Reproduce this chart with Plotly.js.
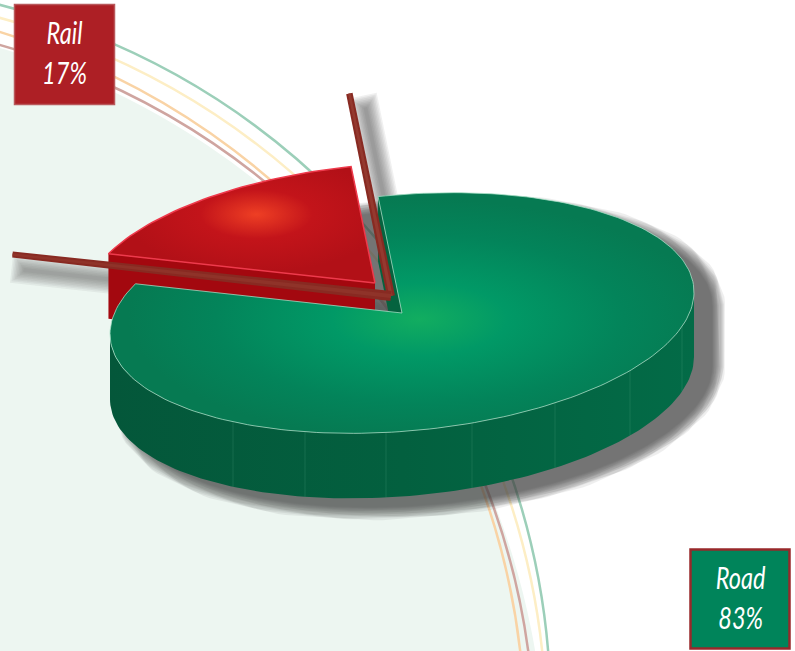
<!DOCTYPE html>
<html>
<head>
<meta charset="utf-8">
<script src="https://cdn.plot.ly/plotly-3.0.1.min.js"></script>
<style>html,body{margin:0;padding:0;background:#fff}</style>
</head>
<body>
<div id="chart" style="width:795px;height:651px"></div>
<script>
// Freight share by mode
const categories = ['Road', 'Rail'];
const shares = [83, 17];

// Tilted disc projection, in plot units
const DISC = {cx: 402, cy: 313, ax: 292, skew: -21, ay: 118.5, depth: 65};
const START_DEG = 94.7;          // where the Road sector begins, going clockwise
const RAIL_PULL = {dx: -27, dy: -30};
const ROD_ORIGIN = {dx: -11, dy: -17};
const RIB_X = [233, 305, 386, 472, 555, 630, 682];

const rad = d => d * Math.PI / 180;
function rim(deg, s = 1, ox = 0, oy = 0) {
  const c = Math.cos(rad(deg)), n = Math.sin(rad(deg));
  return [DISC.cx + DISC.ax * c * s + ox, DISC.cy + (DISC.skew * c - DISC.ay * n) * s + oy];
}
function arc(from, to, ox = 0, oy = 0) {
  const n = Math.max(2, Math.ceil(Math.abs(to - from) / 1.5));
  const pts = [];
  for (let i = 0; i <= n; i++) pts.push(rim(from + (to - from) * i / n, 1, ox, oy));
  return pts;
}
const xs = p => p.map(q => q[0]);
const ys = p => p.map(q => q[1]);
function poly(pts, extra) {
  return Object.assign({type: 'scatter', mode: 'lines', x: xs(pts), y: ys(pts), fill: 'toself',
    hoverinfo: 'skip', showlegend: false, line: {width: 0, color: 'rgba(0,0,0,0)'}}, extra);
}
// Soft edge: the same outline stroked repeatedly at growing widths, faintly
function softShadow(pts, widths, color, opacity) {
  return widths.map(w => ({type: 'scatter', mode: 'lines', x: xs(pts), y: ys(pts),
    fill: 'toself', fillcolor: color, opacity,
    line: {width: w, color}, hoverinfo: 'skip', showlegend: false}));
}
// A rod's shadow fades out past its tip as well as along its sides
function rodShadow(tip, base, ox, oy, widths, color, opacity) {
  const len = Math.hypot(tip[0] - base[0], tip[1] - base[1]);
  const ux = (tip[0] - base[0]) / len, uy = (tip[1] - base[1]) / len;
  return widths.map(w => {
    const grow = (w - widths[0] / 2) / 2;
    return {type: 'scatter', mode: 'lines',
      x: [tip[0] + ux * grow + ox, base[0] + ox], y: [tip[1] + uy * grow + oy, base[1] + oy],
      opacity, line: {width: w, color}, hoverinfo: 'skip', showlegend: false};
  });
}
// A rod that narrows towards its far end
function taperedRod(tip, base, wTip, wBase, color) {
  const len = Math.hypot(tip[0] - base[0], tip[1] - base[1]);
  const nx = -(tip[1] - base[1]) / len, ny = (tip[0] - base[0]) / len;
  return poly([
    [tip[0] + nx * wTip / 2, tip[1] + ny * wTip / 2],
    [base[0] + nx * wBase / 2, base[1] + ny * wBase / 2],
    [base[0] - nx * wBase / 2, base[1] - ny * wBase / 2],
    [tip[0] - nx * wTip / 2, tip[1] - ny * wTip / 2],
    [tip[0] + nx * wTip / 2, tip[1] + ny * wTip / 2]
  ], {fillcolor: color});
}

const railSweep = shares[1] / 100 * 360;
const roadSweep = shares[0] / 100 * 360;
const railFrom = START_DEG, railTo = START_DEG + railSweep;
const apex = rim(0, 0);
const railApex = rim(0, 0, RAIL_PULL.dx, RAIL_PULL.dy);
const d = DISC.depth;

const traces = [];

// Drop shadow of the disc
const outline = arc(180, 360, 18, 9 + d).concat(arc(0, 180, 18, 14));
const shadowSteps = [26, 24, 22, 20, 18, 16, 14, 12, 10, 8, 6, 4, 2, 0.5];
traces.push(...softShadow(outline, shadowSteps, '#444', 0.083));

// Rods that carry the pulled-out sector, built along its two straight edges
const rodBase = rim(0, 0, ROD_ORIGIN.dx, ROD_ORIGIN.dy);
const tipA = rim(railFrom, 1.74, ROD_ORIGIN.dx, ROD_ORIGIN.dy);
const tipB = rim(railTo, 1.42, ROD_ORIGIN.dx, ROD_ORIGIN.dy);
const rodSteps = [28, 25, 22, 19, 16, 13, 10, 7, 4];
traces.push(...rodShadow(tipA, rodBase, 15, 9, rodSteps, '#555', 0.085));
traces.push(...rodShadow(tipB, rodBase, 6, 15, rodSteps, '#555', 0.08));

// Rail: cut face, then top
const railLeft = rim(railTo, 1, RAIL_PULL.dx, RAIL_PULL.dy);
traces.push(poly([railLeft, railApex, [railApex[0], railApex[1] + d], [railLeft[0], railLeft[1] + d], railLeft],
  {fillcolor: '#a3080f'}));
const railTop = [railApex].concat(arc(railFrom, railTo, RAIL_PULL.dx, RAIL_PULL.dy), [railApex]);
traces.push(poly(railTop, {
  fillgradient: {type: 'radial', colorscale: [[0, '#ee3f24'], [0.42, '#c3141a'], [1, '#b21017']]},
  line: {width: 1.5, color: '#ee3a4c'}
}));

// Road: inner cut wall, outer wall with its ribs, then top
const wallEnd = rim(START_DEG);
traces.push(poly([apex, wallEnd, [wallEnd[0], wallEnd[1] + d], [apex[0], apex[1] + d], apex], {fillcolor: '#05633f'}));
const front = arc(180, 360);
const wall = front.concat(arc(360, 180, 0, d));
traces.push(poly(wall.concat([wall[0]]), {
  fillgradient: {type: 'horizontal', colorscale: [[0, '#04573a'], [0.5, '#03603f'], [1, '#036b47']]}
}));
RIB_X.forEach(x => {
  const t = 360 - Math.acos((x - DISC.cx) / DISC.ax) * 180 / Math.PI;
  const top = rim(t), low = rim(t, 1, 0, d);
  traces.push({type: 'scatter', mode: 'lines', x: [top[0], low[0]], y: [top[1], low[1]],
    line: {width: 1, color: 'rgba(160,220,190,0.13)'}, hoverinfo: 'skip', showlegend: false});
});
const roadTop = [apex].concat(arc(START_DEG, START_DEG - roadSweep), [apex]);
traces.push(poly(roadTop, {
  fillgradient: {type: 'radial', colorscale: [[0, '#12ad60'], [0.3, '#019966'], [0.7, '#03845a'], [1, '#067a52']]},
  line: {width: 1, color: 'rgba(170,225,200,0.75)'}
}));

// Rods on top of everything
traces.push(taperedRod(tipA, rodBase, 6.5, 8, '#882a22'));
traces.push(taperedRod(tipA, rodBase, 2.5, 3.5, '#94392f'));
traces.push(taperedRod(tipB, rodBase, 6, 10, '#882a22'));
traces.push(taperedRod(tipB, rodBase, 2.5, 4, '#8f3329'));

// Backdrop rings: each circle is set by three points it passes through
function ring(a, b, c) {
  const D = 2 * (a[0] * (b[1] - c[1]) + b[0] * (c[1] - a[1]) + c[0] * (a[1] - b[1]));
  const sq = p => p[0] * p[0] + p[1] * p[1];
  const ux = (sq(a) * (b[1] - c[1]) + sq(b) * (c[1] - a[1]) + sq(c) * (a[1] - b[1])) / D;
  const uy = (sq(a) * (c[0] - b[0]) + sq(b) * (a[0] - c[0]) + sq(c) * (b[0] - a[0])) / D;
  const r = Math.hypot(a[0] - ux, a[1] - uy);
  return {x0: ux - r, x1: ux + r, y0: uy - r, y1: uy + r};
}
function circle(pts, style) {
  return Object.assign({type: 'circle', xref: 'x', yref: 'y', layer: 'below'}, ring(...pts), style);
}
const box = (x0, y0, size, fill, edge, w) => ({type: 'rect', xref: 'x', yref: 'y', layer: 'above',
  x0, y0, x1: x0 + size, y1: y0 + size, fillcolor: fill, line: {color: edge, width: w}});

const shapes = [
  circle([[0, 48], [255, 180], [535, 650]], {fillcolor: '#edf6f1', line: {width: 0}}),
  circle([[0, 5], [308, 169], [548, 650]], {line: {color: '#9ccfb9', width: 2.5}}),
  circle([[0, 18], [292, 173], [542, 650]], {line: {color: '#fdeec5', width: 2.5}}),
  circle([[0, 32], [267, 177], [520, 650]], {line: {color: '#f9d3a5', width: 2.5}}),
  circle([[0, 45], [260, 178], [528, 650]], {line: {color: '#cfa5a0', width: 2.5}}),
  box(14.5, 4.5, 100, '#ad1f25', '#b9585b', 1.5),
  box(690.5, 549.5, 99, '#00845a', '#98282a', 2.5)
];

const labelFont = {family: 'Lato, "Liberation Sans", sans-serif', size: 31, color: '#fff'};
const label = (i, x, y) => ({xref: 'x', yref: 'y', x, y, showarrow: false, align: 'center',
  text: `<i>${categories[i]}<br>${shares[i]}%</i>`, font: labelFont});

const layout = {
  width: 795, height: 651,
  margin: {l: 0, r: 0, t: 0, b: 0},
  paper_bgcolor: '#fff', plot_bgcolor: 'rgba(0,0,0,0)',
  showlegend: false,
  xaxis: {range: [0, 795], visible: false, fixedrange: true},
  yaxis: {range: [651, 0], visible: false, fixedrange: true},
  shapes,
  annotations: [label(0, 740, 597), label(1, 64.5, 52)]
};

Plotly.newPlot('chart', traces, layout, {displayModeBar: false, staticPlot: true}).then(() => {
  // Condense the label type about its own centre
  document.querySelectorAll('.annotation-text').forEach(t => {
    const cx = parseFloat(t.getAttribute('x'));
    t.setAttribute('transform', `translate(${cx},0) scale(0.76,1) translate(${-cx},0)`);
  });
  // Move each radial highlight off the centre of its sector's bounding box
  document.querySelectorAll('radialGradient').forEach(g => {
    const isRail = Array.from(g.querySelectorAll('stop'))
      .some(s => /238,\s*63,\s*36|ee3f24/i.test(s.getAttribute('stop-color') || ''));
    g.setAttribute('cx', isRail ? '0.555' : '0.53');
    g.setAttribute('cy', isRail ? '0.41' : '0.525');
  });
});
</script>
</body>
</html>
